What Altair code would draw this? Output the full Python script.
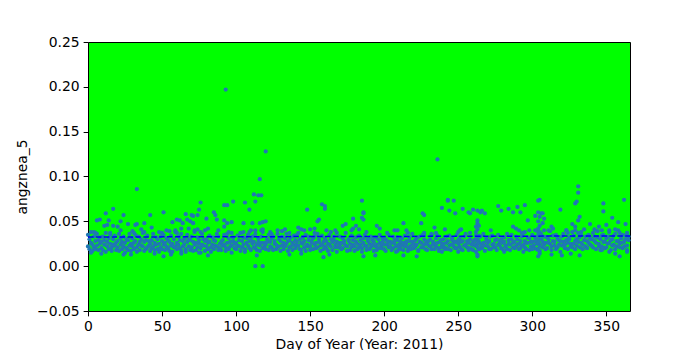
import altair as alt
import pandas as pd

# Daily band of values (thousandths), two readings per day, days 0..365
band_text = """
22 35 19 30 26 38 17 24 21 33 28 19 36 23 18 29 25 32 20 27
33 18 24 29 16 37 27 22 19 31 35 25 21 17 30 24 23 34 18 26
28 21 36 17 24 31 19 27 33 22 26 15 20 30 29 18 23 36 17 25
31 22 26 19 35 28 21 16 24 33 18 27 30 23 22 37 27 17 19 29
34 21 23 28 17 25 29 20 22 36 26 18 32 24 19 30 25 16 21 33
28 19 24 35 18 26 31 22 20 29 27 17 23 34 16 25 30 21 22 38
26 19 33 24 20 29 17 36 28 22 24 31 19 16 35 27 22 30 29 18
21 33 27 17 24 38 18 26 32 21 25 29 20 15 36 24 23 30 17 28
30 22 26 19 34 27 21 16 24 32 19 29 28 23 22 36 33 18 25 20
18 27 29 23 24 35 21 17 36 26 19 31 27 22 23 15 32 28 20 25
26 19 34 23 22 29 17 37 28 21 24 32 19 16 31 26 23 35 20 28
29 18 25 33 21 27 36 20 18 24 27 31 23 17 33 26 20 38 26 22
24 19 30 27 18 35 27 22 21 31 33 18 25 28 19 24 36 21 22 30
28 17 23 33 19 26 31 22 25 36 17 28 29 21 22 32 26 18 34 24
20 29 27 23 23 37 30 19 18 26 25 32 21 28 35 17 24 22 29 33
22 18 28 26 19 31 33 24 26 20 21 36 30 27 17 23 24 34 27 19
31 22 20 28 25 17 35 24 22 30 18 27 29 33 24 21 27 16 21 26
33 23 26 19 20 31 28 25 23 37 17 22 30 28 25 18 21 34 29 24
22 17 27 32 19 25 34 21 24 29 20 16 31 26 23 35 18 22 28 30
25 19 21 33 29 24 17 27 32 22 24 18 20 30 35 26 23 20 27 31
19 24 30 17 24 28 21 35 27 22 18 26 33 20 25 29 22 16 29 32
24 21 19 27 31 23 26 18 22 34 28 25 17 21 32 28 23 19 27 36
20 25 29 22 24 31 18 17 33 27 26 21 21 35 30 24 19 28 25 18
28 23 22 30 35 19 24 27 19 25 31 22 26 34 20 17 27 29 23 21
30 25 21 19 26 33 19 28 34 23 24 18 29 31 22 26 27 20 20 35
25 29 31 22 19 27 28 18 23 33 36 24 21 28 26 20 30 37 24 19
18 27 29 23 24 34 21 30 27 19 33 25 20 22 26 36 23 17 31 28
22 26 28 19 19 33 34 24 25 21 21 29 30 18 24 35 27 23 20 30
26 19 32 27 23 22 19 36 29 25 24 18 35 30 21 26 27 20 22 33
30 24 25 19 20 28 33 23 24 37 28 21 19 26 26 32 31 18 22 27
27 35 23 20 32 28 19 25 29 38 24 17 36 30 21 27 33 24 26 19
20 32 30 26 25 39 22 18 34 28 27 23 19 35 31 21 24 29 28 16
23 33 36 27 20 24 29 40 26 19 32 30 22 25 38 21 25 34 19 28
30 23 27 37 21 32 35 26 24 19 29 41 33 22 20 28 26 35 31 24
23 30 37 21 28 33 19 26 32 39 25 22 30 18 22 34 35 27 27 20
21 31 33 25 26 38 18 29 30 23 24 34 36 19 22 28 28 40 25 21
31 26 20 35 27 22 34 30 23 18 29 33
"""
band_vals = [int(t) / 1000 for t in band_text.split()]
band_days = [d for d in range(366) for _ in range(2)]

# Individual readings above / below the band: (day, value)
extra_points = [
    (93, 0.197), (120, 0.128), (116, 0.097), (236, 0.119), (33, 0.086),
    (112, 0.080), (115, 0.079), (117, 0.079),
    (331, 0.089), (331, 0.082), (329, 0.070), (330, 0.072), (305, 0.074), (319, 0.063),
    (348, 0.070), (348, 0.061), (362, 0.074),
    (17, 0.064), (12, 0.059), (24, 0.057), (42, 0.057), (51, 0.060), (6, 0.051), (8, 0.052),
    (14, 0.051), (22, 0.050), (27, 0.047), (33, 0.047), (32, 0.046), (38, 0.048), (43, 0.043),
    (57, 0.049), (60, 0.052), (11, 0.045), (13, 0.046), (17, 0.045), (20, 0.044), (22, 0.040),
    (4, 0.038), (5, 0.037), (15, 0.037), (30, 0.039), (31, 0.037), (36, 0.041), (38, 0.038),
    (48, 0.038), (50, 0.037), (53, 0.040), (55, 0.039), (59, 0.040), (60, 0.037), (51, 0.011),
    (29, 0.013), (24, 0.013), (2, 0.015), (9, 0.014), (45, 0.014), (56, 0.013),
    (76, 0.071), (92, 0.068), (94, 0.068), (98, 0.072), (106, 0.071), (113, 0.072), (109, 0.063),
    (75, 0.063), (66, 0.058), (70, 0.057), (71, 0.056), (74, 0.057), (85, 0.060), (86, 0.057),
    (62, 0.051), (64, 0.048), (67, 0.052), (69, 0.050), (71, 0.048), (80, 0.053), (87, 0.052),
    (92, 0.051), (94, 0.048), (97, 0.049), (105, 0.048), (111, 0.048), (116, 0.048), (118, 0.049),
    (120, 0.050), (63, 0.042), (68, 0.042), (72, 0.040), (74, 0.041), (76, 0.038), (79, 0.040),
    (81, 0.042), (88, 0.040), (92, 0.044), (95, 0.038), (97, 0.037), (103, 0.037), (105, 0.038),
    (109, 0.038), (110, 0.040), (113, 0.040), (117, 0.040), (118, 0.041), (113, 0.000), (118, 0.000),
    (81, 0.012), (114, 0.012), (75, 0.015), (63, 0.014),
    (158, 0.069), (160, 0.067), (160, 0.064), (148, 0.063), (156, 0.052), (155, 0.050), (179, 0.053),
    (142, 0.043), (144, 0.041), (146, 0.040), (150, 0.041), (153, 0.042), (153, 0.037), (161, 0.040),
    (164, 0.038), (167, 0.040), (168, 0.037), (172, 0.045), (174, 0.047), (178, 0.040), (179, 0.042),
    (123, 0.038), (124, 0.036), (136, 0.037), (141, 0.035), (136, 0.013), (144, 0.014), (159, 0.010),
    (163, 0.013), (128, 0.040), (131, 0.039), (133, 0.041),
    (185, 0.073), (186, 0.060), (186, 0.059), (185, 0.054), (186, 0.052), (226, 0.059), (227, 0.057),
    (239, 0.065), (243, 0.073), (225, 0.048), (213, 0.048), (195, 0.045), (197, 0.042), (234, 0.043),
    (241, 0.041), (202, 0.037), (207, 0.040), (209, 0.040), (215, 0.040), (216, 0.037), (227, 0.037),
    (227, 0.035), (232, 0.036), (235, 0.037), (186, 0.011), (194, 0.012), (213, 0.012), (222, 0.011),
    (239, 0.016), (209, 0.017), (181, 0.045), (183, 0.041), (188, 0.038),
    (247, 0.073), (243, 0.074), (244, 0.062), (248, 0.059), (253, 0.064), (257, 0.060), (258, 0.059),
    (260, 0.063), (263, 0.062), (265, 0.060), (266, 0.062), (268, 0.059), (277, 0.067), (279, 0.062),
    (284, 0.064), (287, 0.060), (290, 0.066), (292, 0.060), (295, 0.068), (302, 0.056), (304, 0.073),
    (297, 0.051), (263, 0.051), (263, 0.048), (262, 0.044), (264, 0.045), (263, 0.041), (262, 0.038),
    (252, 0.041), (250, 0.038), (251, 0.040), (272, 0.040), (287, 0.044), (289, 0.042), (291, 0.040),
    (293, 0.037), (295, 0.038), (298, 0.040), (302, 0.040), (250, 0.016), (257, 0.018), (262, 0.016),
    (263, 0.011), (263, 0.013), (281, 0.016), (294, 0.016), (300, 0.019), (264, 0.034), (262, 0.030),
    (263, 0.026), (263, 0.022), (264, 0.019),
    (304, 0.060), (305, 0.055), (304, 0.050), (305, 0.045), (304, 0.042), (306, 0.059), (307, 0.059),
    (308, 0.053), (307, 0.048), (332, 0.055), (331, 0.051), (354, 0.054), (358, 0.049), (339, 0.047),
    (345, 0.044), (350, 0.046), (363, 0.047), (327, 0.047), (329, 0.044), (313, 0.044), (314, 0.042),
    (311, 0.040), (308, 0.040), (323, 0.040), (324, 0.037), (329, 0.040), (333, 0.038), (342, 0.041),
    (347, 0.040), (352, 0.040), (356, 0.041), (359, 0.037), (364, 0.037), (304, 0.011), (313, 0.013),
    (320, 0.012), (326, 0.014), (332, 0.012), (347, 0.018), (352, 0.016), (356, 0.014), (359, 0.011),
    (364, 0.016), (305, 0.014), (304, 0.018), (305, 0.022), (304, 0.026), (305, 0.030), (304, 0.034),
    (305, 0.038),
]

# Dashed reference line
line_days = [0, 366]
line_vals = [0.0325, 0.0337]

x_ticks = [0, 50, 100, 150, 200, 250, 300, 350]
y_ticks = [-0.05, 0.0, 0.05, 0.10, 0.15, 0.20, 0.25]

days = band_days + [p[0] for p in extra_points]
vals = band_vals + [p[1] for p in extra_points]
df = pd.DataFrame({"day": days, "val": vals})
line_df = pd.DataFrame({"day": line_days, "val": line_vals})

xscale = alt.Scale(domain=[0, 366], nice=False, zero=False)
yscale = alt.Scale(domain=[-0.05, 0.25], nice=False, zero=False)

points = alt.Chart(df).mark_circle(size=18, opacity=1, color="#1f77b4").encode(
    x=alt.X("day:Q", scale=xscale,
            axis=alt.Axis(values=x_ticks, format="d", title="Day of Year (Year: 2011)",
                          labelFlush=False)),
    y=alt.Y("val:Q", scale=yscale,
            axis=alt.Axis(values=y_ticks, format=".2f", title="angznea_5", labelFlush=False)),
)

line = alt.Chart(line_df).mark_line(color="#0000ff", strokeDash=[5.5, 2.4], strokeWidth=1.5).encode(
    x=alt.X("day:Q", scale=xscale),
    y=alt.Y("val:Q", scale=yscale),
)

chart = alt.layer(points, line).properties(
    width=542, height=269,
    padding={"left": 88, "top": 42, "right": 70, "bottom": 39},
    autosize=alt.AutoSizeParams(type="none"),
    background="white",
).configure_view(
    fill="#00ff00", stroke="black", strokeWidth=1
).configure_axis(
    domain=False, grid=False,
    tickColor="black", tickSize=4.86, tickWidth=1,
    labelFont="DejaVu Sans", labelFontSize=13.9, labelColor="black", labelPadding=4,
    titleFont="DejaVu Sans", titleFontSize=13.9, titleFontWeight="normal", titleColor="black",
).configure_axisY(titlePadding=7).configure_axisX(titlePadding=4)

chart.save("out.html", embed_options={"renderer": "svg", "actions": False})
